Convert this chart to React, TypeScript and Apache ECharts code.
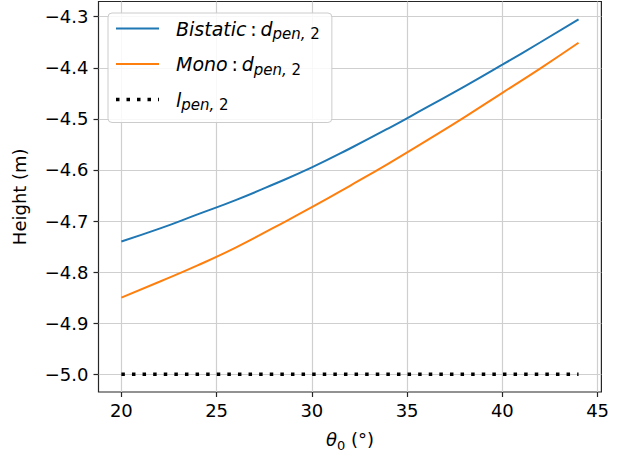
import React, { useEffect, useRef } from "react";
import * as echarts from "echarts";

const theta = [20, 22, 24, 26, 28, 30, 32, 34, 36, 38, 40, 42, 44];
const bistatic = [-4.74, -4.715, -4.687, -4.659, -4.628, -4.595, -4.558, -4.519, -4.478, -4.437, -4.394, -4.35, -4.305];
const mono = [-4.85, -4.819, -4.787, -4.752, -4.713, -4.673, -4.631, -4.588, -4.543, -4.497, -4.449, -4.401, -4.351];
const lpenTheta = [20, 44];
const lpen = [-5.0, -5.0];
const xTicks = [20, 25, 30, 35, 40, 45];
const yTicks = [-5.0, -4.9, -4.8, -4.7, -4.6, -4.5, -4.4, -4.3];

const FONT = "DejaVu Sans";
const LINE_ICON = "path://M0,0H43V2H0Z";
const DOT_ICON =
  "path://M0,0H3.5V3.5H0Z M10.5,0H14V3.5H10.5Z M21,0H24.5V3.5H21Z M31.5,0H35V3.5H31.5Z M42,0H43V3.5H42Z";

export default function App() {
  const ref = useRef<HTMLDivElement>(null);
  useEffect(() => {
    const chart = echarts.init(ref.current!, null, { renderer: "svg" });
    const pair = (xs: number[], ys: number[]) => xs.map((x, i) => [x, ys[i]]);
    const mkRich = (main: number, sub: number) => ({
      i: { fontFamily: FONT, fontStyle: "italic", fontSize: main, color: "#000", lineHeight: 26 },
      n: { fontFamily: FONT, fontSize: main, color: "#000", lineHeight: 26 },
      s: { fontFamily: FONT, fontStyle: "italic", fontSize: sub, color: "#000", lineHeight: 26, verticalAlign: "bottom" },
      u: { fontFamily: FONT, fontSize: sub, color: "#000", lineHeight: 26, verticalAlign: "bottom" },
    });
    chart.setOption({
      animation: false,
      backgroundColor: "#fff",
      grid: {
        left: 98.5,
        right: 26.6,
        top: 1.5,
        bottom: 63,
        show: true,
        borderColor: "#262626",
        borderWidth: 1.2,
        backgroundColor: "transparent",
      },
      legend: {
        orient: "vertical",
        left: 108,
        top: 13,
        itemWidth: 43,
        itemHeight: 3.5,
        itemGap: 13,
        padding: [6, 12, 10, 8],
        backgroundColor: "rgba(255,255,255,0.85)",
        borderColor: "#cccccc",
        borderWidth: 1,
        borderRadius: 4,
        textStyle: { padding: [0, 0, 0, 12], rich: mkRich(19, 15) },
        formatter: (name: string) => {
          if (name === "bistatic") return "{i|Bistatic}{n|\u2009:\u2009}{i|d}{s|pen, }{u|2}";
          if (name === "mono") return "{i|Mono}{n|\u2009:\u2009}{i|d}{s|pen, }{u|2}";
          return "{i|l}{s|pen, }{u|2}";
        },
        data: [
          { name: "bistatic", icon: LINE_ICON },
          { name: "mono", icon: LINE_ICON },
          { name: "lpen", icon: DOT_ICON },
        ],
      },
      xAxis: {
        type: "value",
        min: 18.8,
        max: 45.2,
        splitNumber: 5,
        axisLine: { show: false },
        axisTick: { show: true, length: 5, lineStyle: { color: "#262626", width: 1.2 }, customValues: xTicks },
        axisLabel: {
          customValues: xTicks,
          margin: 9,
          fontFamily: FONT,
          fontSize: 18,
          color: "#000",
        },
        splitLine: { show: true, lineStyle: { color: "#cfcfcf", width: 1.2 } },
        name: "{i|θ}{u|0}{n| (°)}",
        nameLocation: "middle",
        nameGap: 34,
        nameTextStyle: { rich: mkRich(18, 13) },
      },
      yAxis: {
        type: "value",
        min: -5.0348,
        max: -4.2702,
        splitNumber: 7,
        axisLine: { show: false },
        axisTick: { show: true, length: 5, lineStyle: { color: "#262626", width: 1.2 }, customValues: yTicks },
        axisLabel: {
          customValues: yTicks,
          margin: 10,
          fontFamily: FONT,
          fontSize: 18,
          color: "#000",
          formatter: (v: number) => v.toFixed(1).replace("-", "\u2212"),
        },
        splitLine: { show: true, lineStyle: { color: "#cfcfcf", width: 1.2 } },
        name: "Height (m)",
        nameLocation: "middle",
        nameGap: 70,
        nameTextStyle: { fontFamily: FONT, fontSize: 18, color: "#000" },
      },
      series: [
        {
          name: "bistatic",
          type: "line",
          data: pair(theta, bistatic),
          smooth: true,
          showSymbol: false,
          symbol: "none",
          lineStyle: { color: "#1f77b4", width: 2 },
          itemStyle: { color: "#1f77b4" },
        },
        {
          name: "mono",
          type: "line",
          data: pair(theta, mono),
          smooth: true,
          showSymbol: false,
          symbol: "none",
          lineStyle: { color: "#ff7f0e", width: 2 },
          itemStyle: { color: "#ff7f0e" },
        },
        {
          name: "lpen",
          type: "line",
          data: pair(lpenTheta, lpen),
          showSymbol: false,
          symbol: "none",
          lineStyle: { color: "#000", width: 3.5, type: [3.5, 7.1], cap: "butt" },
          itemStyle: { color: "#000" },
        },
      ],
    });
    return () => chart.dispose();
  }, []);
  return <div ref={ref} style={{ width: 628, height: 457, position: "absolute", left: 0, top: 0 }} />;
}
